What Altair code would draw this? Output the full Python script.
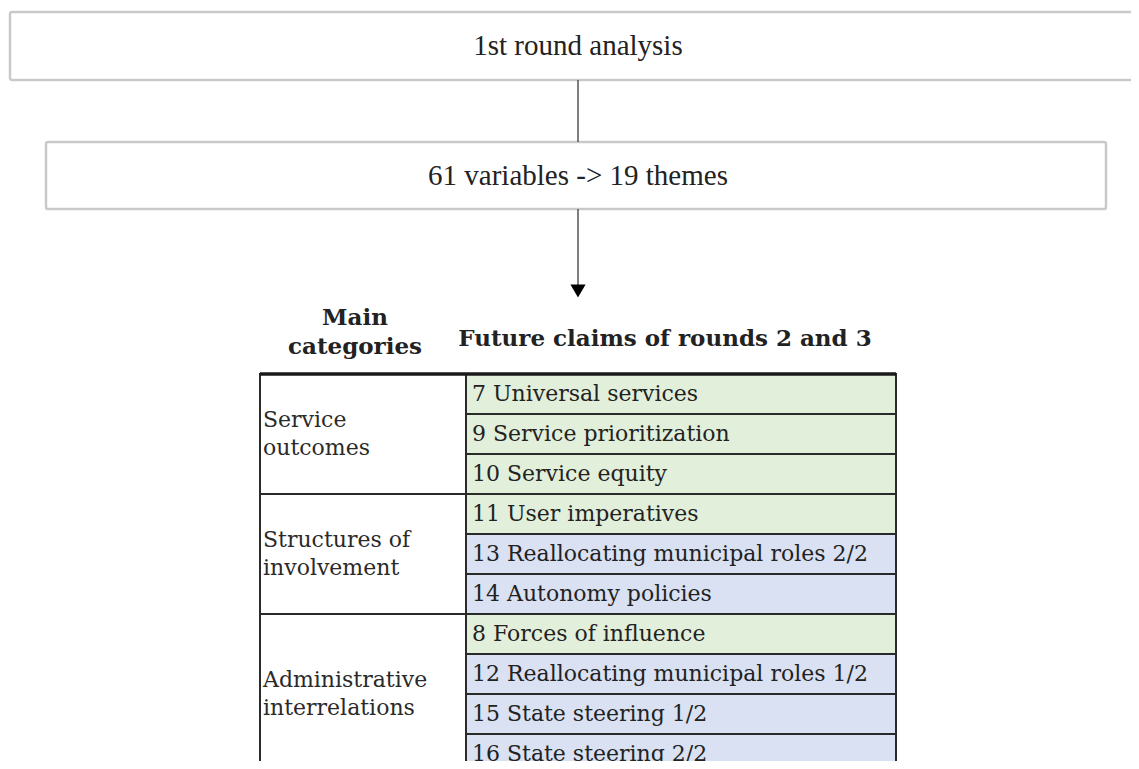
import altair as alt
import pandas as pd

# ---------------- data ----------------
box_labels = ["1st round analysis", "61 variables -> 19 themes"]
header_labels = ["Main\ncategories", "Future claims of rounds 2 and 3"]
categories = ["Service\noutcomes", "Structures of\ninvolvement", "Administrative\ninterrelations"]
claims = [
    "7 Universal services",
    "9 Service prioritization",
    "10 Service equity",
    "11 User imperatives",
    "13 Reallocating municipal roles 2/2",
    "14 Autonomy policies",
    "8 Forces of influence",
    "12 Reallocating municipal roles 1/2",
    "15 State steering 1/2",
    "16 State steering 2/2",
]
claim_category = [0, 0, 0, 1, 1, 1, 2, 2, 2, 2]
claim_group = ["A", "A", "A", "A", "B", "B", "A", "B", "B", "B"]

# ---------------- layout (pixel positions) ----------------
W, H, M = 1139, 769, 8
box_x0 = [10, 46]
box_x1 = [1160, 1106]
box_y0 = [12, 142]
box_y1 = [80, 209]
center_x = 578
tbl_left, tbl_mid, tbl_right = 260, 466, 896
tbl_top, row_h = 374, 40
green, blue = "#e2efda", "#d9e1f2"

xs = alt.Scale(domain=[M, W - M], nice=False, zero=False)
ys = alt.Scale(domain=[M, H - M], nice=False, zero=False, reverse=True)

# boxes
boxes = pd.DataFrame({
    "label": box_labels, "x0": box_x0, "x1": box_x1, "y0": box_y0, "y1": box_y1,
})
boxes["xc"] = center_x
boxes["yc"] = (boxes["y0"] + boxes["y1"]) / 2

box_rects = alt.Chart(boxes).mark_rect(
    fill="white", stroke="#c9c9c9", strokeWidth=2.5, cornerRadius=2, clip=True
).encode(
    x=alt.X("x0:Q", scale=xs, axis=None), x2="x1:Q",
    y=alt.Y("y0:Q", scale=ys, axis=None), y2="y1:Q",
)
box_text = alt.Chart(boxes).mark_text(
    font="Liberation Serif", fontSize=29, color="#222", align="center", baseline="middle"
).encode(
    x=alt.X("xc:Q", scale=xs, axis=None), y=alt.Y("yc:Q", scale=ys, axis=None), text="label:N"
)

# connectors
conn = pd.DataFrame({"x": [center_x, center_x], "y0": [box_y1[0], box_y1[1]], "y1": [box_y0[1], 286]})
conn_rules = alt.Chart(conn).mark_rule(color="#555", strokeWidth=1.5).encode(
    x=alt.X("x:Q", scale=xs, axis=None), y=alt.Y("y0:Q", scale=ys, axis=None), y2="y1:Q"
)
arrow = alt.Chart(pd.DataFrame({"x": [center_x], "y": [291]})).mark_point(
    shape="triangle-down", filled=True, size=230, color="black", opacity=1
).encode(x=alt.X("x:Q", scale=xs, axis=None), y=alt.Y("y:Q", scale=ys, axis=None))

# headers (multi-line text: y is the first line)
headers = pd.DataFrame({"label": header_labels, "x": [355, 665], "y": [318, 339]})
header_text = alt.Chart(headers).mark_text(
    font="DejaVu Serif", fontSize=23, fontWeight="bold", color="#222",
    align="center", baseline="middle", lineBreak="\n", lineHeight=29
).encode(x=alt.X("x:Q", scale=xs, axis=None), y=alt.Y("y:Q", scale=ys, axis=None), text="label:N")

# right column cells
rows = pd.DataFrame({"claim": claims, "cat": claim_category, "grp": claim_group})
rows["i"] = range(len(rows))
rows["y0"] = tbl_top + rows["i"] * row_h
rows["y1"] = rows["y0"] + row_h
rows["yc"] = rows["y0"] + row_h / 2
rows["x0"] = tbl_mid
rows["x1"] = tbl_right
rows["xt"] = tbl_mid + 6

claim_cells = alt.Chart(rows).mark_rect(stroke="#2a2a2a", strokeWidth=2, clip=True).encode(
    x=alt.X("x0:Q", scale=xs, axis=None), x2="x1:Q",
    y=alt.Y("y0:Q", scale=ys, axis=None), y2="y1:Q",
    fill=alt.Fill("grp:N", scale=alt.Scale(domain=["A", "B"], range=[green, blue]), legend=None),
)
claim_text = alt.Chart(rows).mark_text(
    font="DejaVu Serif", fontSize=22, color="#222", align="left", baseline="middle"
).encode(x=alt.X("xt:Q", scale=xs, axis=None), y=alt.Y("yc:Q", scale=ys, axis=None), text="claim:N")

# left column cells
cat_rows = []
for k, name in enumerate(categories):
    idx = [i for i, c in enumerate(claim_category) if c == k]
    y0 = tbl_top + min(idx) * row_h
    y1 = tbl_top + (max(idx) + 1) * row_h
    cat_rows.append({"label": name, "x0": tbl_left, "x1": tbl_mid, "y0": y0, "y1": y1,
                     "xt": tbl_left + 3, "yt": (y0 + y1) / 2 - 14})
cats = pd.DataFrame(cat_rows)
cat_cells = alt.Chart(cats).mark_rect(fill="white", stroke="#2a2a2a", strokeWidth=2, clip=True).encode(
    x=alt.X("x0:Q", scale=xs, axis=None), x2="x1:Q",
    y=alt.Y("y0:Q", scale=ys, axis=None), y2="y1:Q",
)
cat_text = alt.Chart(cats).mark_text(
    font="DejaVu Serif", fontSize=22, color="#2a2a2a", align="left", baseline="middle",
    lineBreak="\n", lineHeight=28
).encode(x=alt.X("xt:Q", scale=xs, axis=None), y=alt.Y("yt:Q", scale=ys, axis=None), text="label:N")

top_border = alt.Chart(pd.DataFrame({"x0": [tbl_left], "x1": [tbl_right], "y": [tbl_top]})).mark_rule(
    color="#1a1a1a", strokeWidth=3.5
).encode(x=alt.X("x0:Q", scale=xs, axis=None), x2="x1:Q", y=alt.Y("y:Q", scale=ys, axis=None))

chart = alt.layer(
    box_rects, box_text, conn_rules, arrow, header_text,
    claim_cells, cat_cells, claim_text, cat_text, top_border
).properties(
    width=W - 2 * M, height=H - 2 * M, padding=0, autosize=alt.AutoSizeParams(type="none"),
    background="white",
).configure_view(stroke=None)

chart.save("out.html", embed_options={"renderer": "svg", "actions": False})
